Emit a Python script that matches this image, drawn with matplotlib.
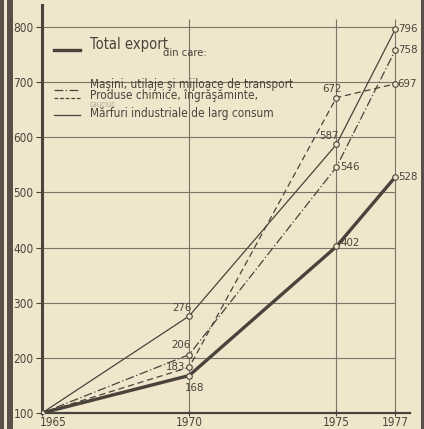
import matplotlib
matplotlib.use("Agg")
import matplotlib.pyplot as plt
import matplotlib.transforms as mtransforms
from matplotlib.lines import Line2D
from matplotlib.patches import Rectangle

plt.rcParams['font.family'] = ['DejaVu Sans']
plt.rcParams['font.stretch'] = 'condensed'

years = [1965, 1970, 1975, 1977]
total = [100, 168, 402, 528]
masini = [100, 206, 546, 758]
chimice = [100, 183, 672, 697]
marfuri = [100, 276, 587, 796]

yticks = [100, 200, 300, 400, 500, 600, 700, 800]
xticks = [1965, 1970, 1975, 1977]

# label offsets (pixels) for each point value, per series
lbl_total = [None, (5, -12, 'center'), (4, 3, 'left'), (3, 0, 'left')]
lbl_masini = [None, (-8, 10, 'center'), (4, 0, 'left'), (3, 0, 'left')]
lbl_chimice = [None, (-4, 0, 'right'), (-4, 9, 'center'), (2, 0, 'left')]
lbl_marfuri = [None, (-7, 8, 'center'), (-7, 8, 'center'), (3, 0, 'left')]

ink = '#4a433b'
paper = '#efe6cc'

fig = plt.figure(figsize=(4.24, 4.29), dpi=100, facecolor=paper)
W, H = 424, 429
ax = fig.add_axes([42 / W, 16 / H, 368 / W, 408 / H])
ax.set_facecolor(paper)
ax.set_xlim(1965, 1977.5)
ax.set_ylim(100, 840)

# grid
ax.hlines(yticks[1:], 1965, 1977, color='#7d7468', lw=0.8, zorder=1)
ax.vlines(xticks[1:], 100, 815, color='#7d7468', lw=0.8, zorder=1)

series = [
    (total, lbl_total, dict(lw=2.4, ls='-')),
    (masini, lbl_masini, dict(lw=0.9, dashes=(7, 2, 1, 2))),
    (chimice, lbl_chimice, dict(lw=0.9, dashes=(5, 3))),
    (marfuri, lbl_marfuri, dict(lw=0.9, ls='-')),
]
for vals, lbls, style in series:
    ax.plot(years, vals, color=ink, marker='o', ms=4, mfc=paper, mec=ink,
            mew=0.8, zorder=3, **style)
    for x, v, l in zip(years, vals, lbls):
        if l is None:
            continue
        dx, dy, ha = l
        ax.annotate(str(v), (x, v), xytext=(dx, dy), textcoords='offset pixels',
                    ha=ha, va='center', fontsize=8.2, color=ink, zorder=4)

for s in ['top', 'right']:
    ax.spines[s].set_visible(False)
ax.spines['left'].set_linewidth(2.2)
ax.spines['bottom'].set_linewidth(1.6)
ax.spines['left'].set_color(ink)
ax.spines['bottom'].set_color(ink)

ax.set_yticks(yticks)
ax.set_yticklabels([str(t) for t in yticks])
ax.set_xticks(xticks)
ax.set_xticklabels([str(t) for t in xticks])
ax.tick_params(axis='y', length=4, width=0.8, color=ink, labelcolor=ink,
               labelsize=8.5, pad=2)
ax.tick_params(axis='x', length=4, width=0.8, direction='inout', color=ink,
               labelcolor=ink, labelsize=8.5, pad=0)
first = ax.get_xticklabels()[0]
first.set_transform(first.get_transform() +
                    mtransforms.ScaledTranslation(0.11, 0, fig.dpi_scale_trans))

# legend, drawn by hand in figure pixels
def fx(x):
    return x / W

def fy(y):
    return 1 - y / H

leg = [
    (50, dict(lw=2.4, ls='-')),
    (90, dict(lw=0.9, dashes=(7, 2, 1, 2))),
    (98, dict(lw=0.9, dashes=(3, 1.5))),
    (115, dict(lw=0.9, ls='-')),
]
for y, style in leg:
    fig.add_artist(Line2D([fx(54), fx(80)], [fy(y), fy(y)], color=ink, **style))
fig.text(fx(90), fy(44), 'Total export', fontsize=10.5, color=ink, va='center')
fig.text(fx(163), fy(53), 'din care:', fontsize=8, color=ink, va='center')
fig.text(fx(90), fy(84.5), 'Maşini, utilaje şi mijloace de transport', fontsize=8.5,
         color=ink, va='center')
fig.text(fx(90), fy(95.5), 'Produse chimice, îngrăşăminte,', fontsize=8.5,
         color=ink, va='center')
fig.text(fx(90), fy(104.5), 'cauciuc', fontsize=5.5, color='#b5aa98', va='center')
fig.text(fx(90), fy(114), 'Mărfuri industriale de larg consum', fontsize=8.5,
         color=ink, va='center')

# newspaper column rules
for x0, w in [(0, 4), (7, 6), (421, 3)]:
    fig.add_artist(Rectangle((fx(x0), 0), w / W, 1, transform=fig.transFigure,
                             color='#5a5048', lw=0))

fig.savefig('out.png', dpi=100, facecolor=paper)
